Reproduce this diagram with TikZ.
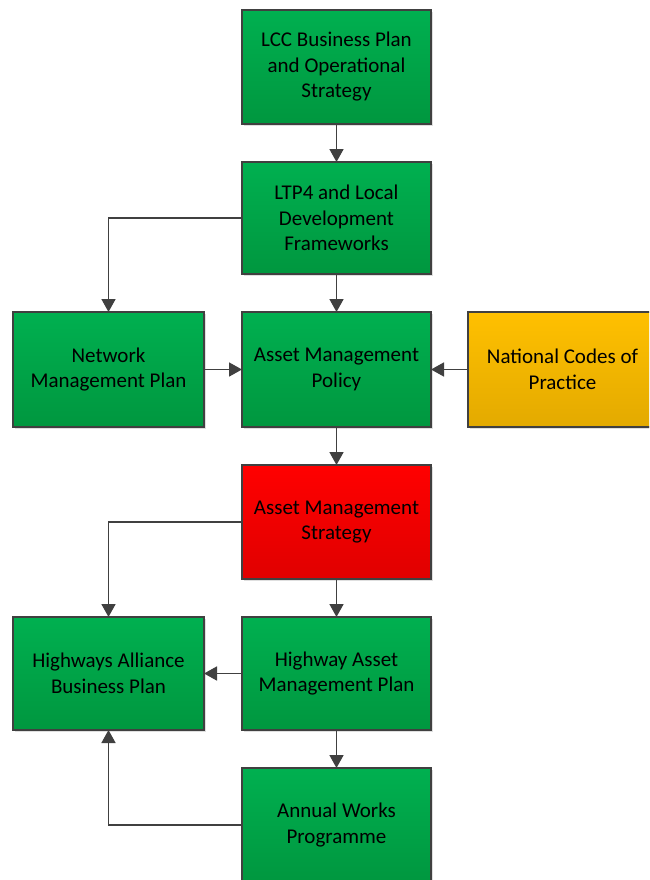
\documentclass[tikz,border=0pt]{standalone}
\usepackage{fontspec}
\setmainfont{Carlito}
\usetikzlibrary{positioning,arrows.meta,shadows}
\definecolor{boxgreen}{HTML}{00B050}
\definecolor{boxgreendk}{HTML}{00973F}
\definecolor{boxred}{HTML}{FF0000}
\definecolor{boxreddk}{HTML}{E00000}
\definecolor{boxamber}{HTML}{FFC000}
\definecolor{boxamberdk}{HTML}{E3AA00}
\definecolor{linegray}{HTML}{404040}
\tikzset{
  flowarrow/.style={-{Triangle[length=13pt, width=14pt]}, line width=1.7pt, linegray},
  planbox/.style={draw=linegray, line width=1.3pt, outer sep=0pt, minimum width=189pt, minimum height=114pt,
    align=center, text=black, font=\fontsize{21}{25.5}\selectfont,
    drop shadow={shadow xshift=2pt, shadow yshift=-2pt, opacity=0.25}},
  greenbox/.style={planbox, top color=boxgreen, bottom color=boxgreendk},
  redbox/.style={planbox, top color=boxred, bottom color=boxreddk},
  amberbox/.style={planbox, top color=boxamber, bottom color=boxamberdk}
}

\begin{document}
\begin{tikzpicture}[x=1pt, y=-1pt]
      \clip (0,0) rectangle (649,880);
      \node[greenbox] (lcc) at (336.5,67) {LCC Business Plan\\and Operational\\Strategy};
      \node[greenbox, minimum height=112pt] (ltp) at (336.5,218) {LTP4 and Local\\Development\\Frameworks};
      \node[greenbox, minimum width=191pt, minimum height=115pt] (nmp) at (108.5,369.5) {Network\\Management Plan};
      \node[greenbox, minimum height=115pt] (amp) at (336.5,369.5) {Asset Management\\Policy};
      \node[amberbox, minimum height=115pt] (ncp) at (562.5,369.5) {National Codes of\\Practice};
      \node[redbox] (ams) at (336.5,522) {Asset Management\\Strategy};
      \node[greenbox, minimum width=191pt, minimum height=113pt] (hab) at (108.5,673.5) {Highways Alliance\\Business Plan};
      \node[greenbox, minimum height=113pt] (hamp) at (336.5,673.5) {Highway Asset\\Management Plan};
      \node[greenbox] (awp) at (336.5,825) {Annual Works\\Programme};
      \draw[flowarrow] (lcc) -- (ltp);
      \draw[flowarrow] (ltp) -- (amp);
      \draw[flowarrow] (ltp.west) -| (nmp.north);
      \draw[flowarrow] (nmp) -- (amp);
      \draw[flowarrow] (ncp) -- (amp);
      \draw[flowarrow] (amp) -- (ams);
      \draw[flowarrow] (ams) -- (hamp);
      \draw[flowarrow] (ams.west) -| (hab.north);
      \draw[flowarrow] (hamp) -- (hab);
      \draw[flowarrow] (hamp) -- (awp);
      \draw[flowarrow] (awp.west) -| (hab.south);
    \end{tikzpicture}
\end{document}
